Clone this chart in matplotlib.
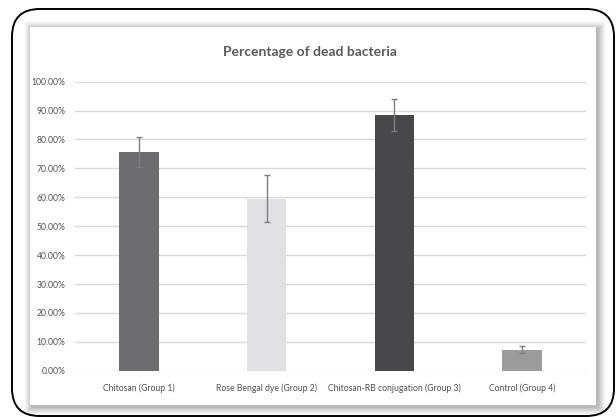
import matplotlib
matplotlib.use("Agg")
import matplotlib.pyplot as plt
from matplotlib.patches import FancyBboxPatch, Rectangle
from matplotlib.ticker import PercentFormatter

# data
groups = ["Chitosan (Group 1)", "Rose Bengal dye (Group 2)",
          "Chitosan-RB conjugation (Group 3)", "Control (Group 4)"]
dead_pct = [75.7, 59.5, 88.5, 7.2]
err_pct = [5.1, 8.1, 5.5, 1.2]
bar_colors = ["#6d6d70", "#e1e1e3", "#48484a", "#9b9b9b"]

plt.rcParams['font.family'] = ['Lato', 'DejaVu Sans']
txt = "#505050"

fig = plt.figure(figsize=(6.16, 4.17), dpi=100)
W, H = 616.0, 417.0

# outer rounded frame
frame = FancyBboxPatch((12 / W, 1 / H), 602 / W, 407 / H,
                       boxstyle="round,pad=0,rounding_size=0.045",
                       transform=fig.transFigure, facecolor="white",
                       edgecolor="black", linewidth=1.4, mutation_aspect=W / H,
                       zorder=-10)
fig.patches.append(frame)

# soft shadow round the inner panel, heavier to the right and bottom
for i, a in enumerate([0.02, 0.025, 0.03, 0.035, 0.04, 0.045, 0.05, 0.05]):
    d = 8 - i
    sh = Rectangle(((30 - d + 2) / W, (H - 405 - d - 2) / H), (566 + 2 * d) / W, (378 + 2 * d) / H,
                   transform=fig.transFigure, facecolor="black", alpha=a,
                   edgecolor="none", zorder=-9)
    fig.patches.append(sh)
panel = Rectangle((30 / W, (H - 405) / H), 566 / W, 378 / H,
                  transform=fig.transFigure, facecolor="white", edgecolor="none",
                  zorder=-8)
fig.patches.append(panel)

ax = fig.add_axes([75 / W, 46.3 / H, 511 / W, 289 / H])
ax.set_facecolor("none")
x = range(len(groups))
ax.bar(x, dead_pct, width=0.31, color=bar_colors, zorder=3)
ax.errorbar(x, dead_pct, yerr=err_pct, fmt="none", ecolor="#7f7f7f",
            elinewidth=1, capsize=2, capthick=1, zorder=4)

ax.set_xlim(-0.5, 3.5)
ax.set_ylim(0, 100)
ax.set_yticks(range(0, 101, 10))
ax.yaxis.set_major_formatter(PercentFormatter(decimals=2))
ax.set_xticks(list(x))
ax.set_xticklabels(groups)
ax.grid(axis="y", color="#d9d9d9", linewidth=1, zorder=0)
for s in ax.spines.values():
    s.set_visible(False)
ax.tick_params(length=0, labelsize=6.2, colors=txt, pad=7)
ax.tick_params(axis="x", pad=9)

fig.text(310 / W, (H - 52) / H, "Percentage of dead bacteria", ha="center",
         va="center", fontsize=10, fontweight="bold", color="#595959")

fig.savefig("out.png", dpi=100)
